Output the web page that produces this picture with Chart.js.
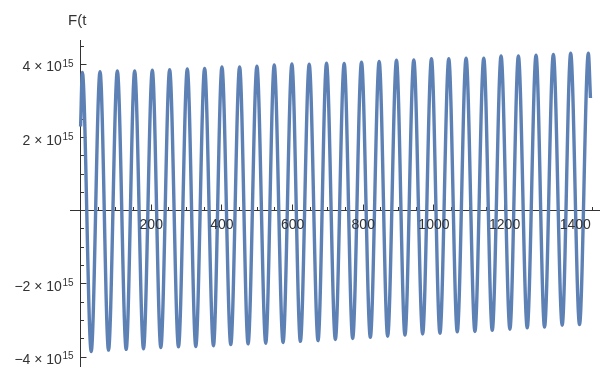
<!DOCTYPE html>
<html>
<head>
<meta charset="utf-8">
<script src="https://cdn.jsdelivr.net/npm/chart.js@4.4.1/dist/chart.umd.min.js"></script>
<style>
html,body{margin:0;padding:0;background:#ffffff;}
#wrap{width:611px;height:367px;}
</style>
</head>
<body>
<div id="wrap"><canvas id="c" width="611" height="367"></canvas></div>
<script>
// ---- data (F in units of 1e15) ----
const startT = 0;
const startF = 2.3;
const peakT = [5,55,104,153,203,252,302,351,400,450,499,548,598,647,696,746,795,845,894,943,993,1042,1091,1141,1190,1239,1289,1338,1387,1437];
const peakF = [3.78,3.80,3.82,3.82,3.84,3.85,3.87,3.89,3.93,3.93,3.95,3.98,4.01,4.00,4.03,4.02,4.06,4.08,4.11,4.12,4.15,4.15,4.17,4.17,4.23,4.23,4.25,4.27,4.30,4.30];
const troughT = [30,79,129,178,227,277,326,376,425,474,524,573,622,672,721,770,820,869,918,968,1017,1066,1116,1165,1215,1264,1313,1363,1412];
const troughF = [-3.85,-3.81,-3.79,-3.77,-3.74,-3.72,-3.71,-3.69,-3.66,-3.64,-3.62,-3.60,-3.57,-3.55,-3.52,-3.49,-3.46,-3.43,-3.40,-3.37,-3.35,-3.31,-3.30,-3.27,-3.24,-3.20,-3.18,-3.13,-3.11];
const endT = 1443;
const endF = 3.08;

const xTickValues = [200,400,600,800,1000,1200,1400];
const xTickLabels = ['200','400','600','800','1000','1200','1400'];
const yTickValues = [-4,-2,2,4];
const yTickLabels = ['\u22124 \u00d7 10','\u22122 \u00d7 10','2 \u00d7 10','4 \u00d7 10'];
const yTickExponent = '15';
const axisTitle = 'F(t';

// ---- build points ----
const points = [{x:startT, y:startF}];
for (let i = 0; i < peakT.length; i++) {
  points.push({x:peakT[i], y:peakF[i]});
  if (i < troughT.length) points.push({x:troughT[i], y:troughF[i]});
}
points.push({x:endT, y:endF});

const AXIS = '#333333';
const TEXT = '#333333';
const FONT = '"Liberation Sans", Arial, sans-serif';

function axisPix(chart) {
  const xs = chart.scales.x, ys = chart.scales.y;
  return {
    xs, ys,
    ax: Math.floor(xs.getPixelForValue(0)) + 0.5,
    ay: Math.floor(ys.getPixelForValue(0)) + 0.5
  };
}

const axesPlugin = {
  id: 'mmaAxes',
  beforeDatasetsDraw(chart) {
    const {ctx, chartArea} = chart;
    const {xs, ys, ax, ay} = axisPix(chart);
    ctx.save();
    ctx.strokeStyle = AXIS;
    ctx.lineWidth = 1;
    ctx.beginPath();
    ctx.moveTo(chartArea.left, ay); ctx.lineTo(chartArea.right, ay);
    ctx.moveTo(ax, chartArea.top); ctx.lineTo(ax, chart.height);
    for (let v = 50; v <= xs.max; v += 50) {
      const px = Math.floor(xs.getPixelForValue(v)) + 0.5;
      const len = xTickValues.includes(v) ? 6 : 3.5;
      ctx.moveTo(px, ay); ctx.lineTo(px, ay - len);
    }
    for (let k = Math.ceil(ys.min * 2); k <= Math.floor(ys.max * 2); k++) {
      if (k === 0) continue;
      const v = k / 2;
      const py = Math.floor(ys.getPixelForValue(v)) + 0.5;
      const len = yTickValues.includes(v) ? 6 : 3.5;
      ctx.moveTo(ax, py); ctx.lineTo(ax + len, py);
    }
    ctx.stroke();

    ctx.fillStyle = TEXT;
    ctx.textBaseline = 'alphabetic';
    ctx.textAlign = 'left';
    yTickValues.forEach((v, i) => {
      const py = ys.getPixelForValue(v);
      ctx.font = '10px ' + FONT;
      const ws = ctx.measureText(yTickExponent).width;
      ctx.font = '14px ' + FONT;
      const wm = ctx.measureText(yTickLabels[i]).width;
      const right = ax - 7;
      const supLeft = right - ws;
      ctx.fillText(yTickLabels[i], supLeft - 0.5 - wm, py + 7);
      ctx.font = '10px ' + FONT;
      ctx.fillText(yTickExponent, supLeft, py + 2.3);
    });

    ctx.font = '15px ' + FONT;
    ctx.fillText(axisTitle, 68, 25);
    ctx.restore();
  },
  afterDatasetsDraw(chart) {
    const {ctx} = chart;
    const {xs, ay} = axisPix(chart);
    ctx.save();
    ctx.fillStyle = TEXT;
    ctx.font = '14px ' + FONT;
    ctx.textAlign = 'center';
    ctx.textBaseline = 'alphabetic';
    xTickValues.forEach((v, i) => {
      ctx.fillText(xTickLabels[i], xs.getPixelForValue(v), ay + 18);
    });
    ctx.restore();
  }
};

new Chart(document.getElementById('c'), {
  type: 'line',
  data: {
    datasets: [{
      data: points,
      borderColor: '#5E81B5',
      borderWidth: 3.4,
      pointRadius: 0,
      fill: false,
      cubicInterpolationMode: 'monotone'
    }]
  },
  options: {
    responsive: false,
    animation: false,
    events: [],
    layout: { padding: { left: 70, right: 11, top: 40, bottom: 2 } },
    plugins: { legend: { display: false }, tooltip: { enabled: false } },
    scales: {
      x: {
        type: 'linear',
        min: -30, max: 1470,
        position: { y: 0 },
        grid: { display: false, drawTicks: false },
        border: { display: false },
        ticks: { display: false },
        afterBuildTicks: s => { s.ticks = xTickValues.map(v => ({ value: v })); },
        afterFit: s => { s.paddingLeft = 0; s.paddingRight = 0; }
      },
      y: {
        type: 'linear',
        min: -4.216, max: 4.664,
        position: { x: 0 },
        grid: { display: false, drawTicks: false },
        border: { display: false },
        ticks: { display: false },
        afterBuildTicks: s => { s.ticks = yTickValues.map(v => ({ value: v })); },
        afterFit: s => { s.paddingTop = 0; s.paddingBottom = 0; }
      }
    }
  },
  plugins: [axesPlugin]
});
</script>
</body>
</html>
